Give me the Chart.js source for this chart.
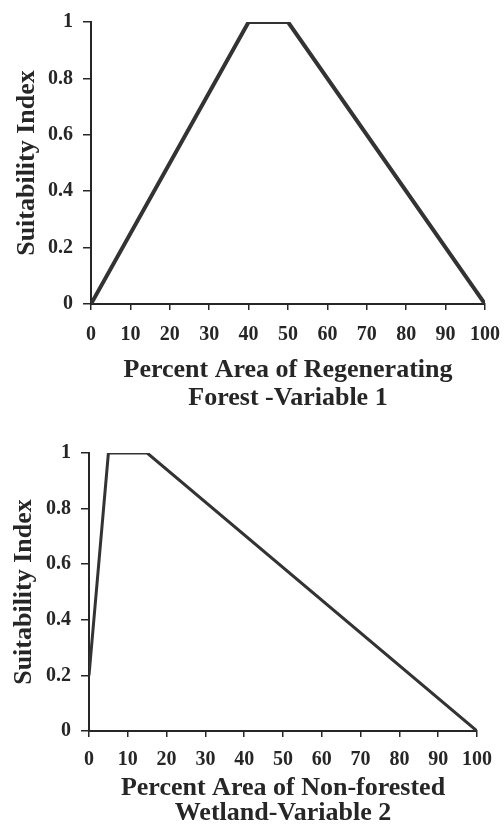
<!DOCTYPE html>
<html>
<head>
<meta charset="utf-8">
<script src="https://cdn.jsdelivr.net/npm/chart.js@4.4.0/dist/chart.umd.min.js"></script>
<style>
  html, body { margin: 0; padding: 0; background: #fff; }
  body { width: 504px; height: 829px; position: relative; overflow: hidden; }
  .box { position: absolute; left: 0; width: 504px; }
  #b1 { top: 0; height: 415px; }
  #b2 { top: 420px; height: 409px; }
</style>
</head>
<body>
<div class="box" id="b1"><canvas id="c1"></canvas></div>
<div class="box" id="b2"><canvas id="c2"></canvas></div>
<script>
// Data
const xTicks = [0, 10, 20, 30, 40, 50, 60, 70, 80, 90, 100];
const yTicks = [0, 0.2, 0.4, 0.6, 0.8, 1];
const var1X = [0, 40, 50, 100];
const var1Y = [0, 1, 1, 0];
const var2X = [0, 5, 15, 100];
const var2Y = [0.2, 1, 1, 0];
const yTitle = 'Suitability Index';
const xTitle1 = ['Percent Area of Regenerating', 'Forest -Variable 1'];
const xTitle2 = ['Percent Area of Non-forested', 'Wetland-Variable 2'];

const FONT = "'Liberation Serif', 'Times New Roman', serif";
const INK = '#262626';

function makeChart(id, xs, ys, titleLines, cfg) {
  const pts = xs.map((x, i) => ({ x: x, y: ys[i] }));
  return new Chart(document.getElementById(id), {
    type: 'scatter',
    data: {
      datasets: [{
        data: pts,
        showLine: true,
        borderColor: '#333333',
        borderWidth: cfg.lineWidth,
        pointRadius: 0,
        fill: false,
        tension: 0,
        borderJoinStyle: 'miter'
      }]
    },
    options: {
      responsive: true,
      maintainAspectRatio: false,
      animation: false,
      layout: { padding: { left: 0, right: cfg.padRight, top: cfg.padTop, bottom: 0 } },
      plugins: { legend: { display: false }, tooltip: { enabled: false } },
      scales: {
        x: {
          type: 'linear',
          min: 0, max: 100,
          afterBuildTicks: (s) => { s.ticks = xTicks.map(v => ({ value: v })); },
          afterFit: (s) => { s.height = cfg.xHeight; s.paddingRight = 0; s.paddingLeft = 0; },
          grid: { display: true, drawOnChartArea: false, drawTicks: true, tickLength: 6, color: INK, lineWidth: 1.5 },
          border: { display: true, color: INK, width: 2 },
          ticks: { color: INK, padding: cfg.xTickPad, maxRotation: 0, autoSkip: false,
                   font: { family: FONT, size: 20, weight: 'bold' } },
          title: { display: true, text: titleLines, color: INK,
                   padding: { top: 0, bottom: cfg.titlePadBottom },
                   font: { family: FONT, size: 26, weight: 'bold', lineHeight: cfg.titleLH } }
        },
        y: {
          type: 'linear',
          min: 0, max: 1,
          afterBuildTicks: (s) => { s.ticks = yTicks.map(v => ({ value: v })); },
          afterFit: (s) => { s.width = cfg.yWidth; },
          grid: { display: true, drawOnChartArea: false, drawTicks: true, tickLength: 8, color: INK, lineWidth: 1.5 },
          border: { display: true, color: INK, width: 2 },
          ticks: { color: INK, padding: 10,
                   callback: (v) => String(v),
                   font: { family: FONT, size: 20, weight: 'bold' } },
          title: { display: true, text: yTitle, color: INK,
                   padding: { top: cfg.yTitlePad, bottom: 0 },
                   font: { family: FONT, size: 26, weight: 'bold', lineHeight: 1.2 } }
        }
      }
    }
  });
}

makeChart('c1', var1X, var1Y, xTitle1, {
  lineWidth: 4, padRight: 19, padTop: 17, xHeight: 111, yWidth: 91,
  xTickPad: 13, titlePadBottom: 3, titleLH: 28 / 26, yTitlePad: 12
});
makeChart('c2', var2X, var2Y, xTitle2, {
  lineWidth: 3, padRight: 27, padTop: 33, xHeight: 98, yWidth: 89,
  xTickPad: 11, titlePadBottom: 3.5, titleLH: 25 / 26, yTitlePad: 8.5
});
</script>
</body>
</html>
